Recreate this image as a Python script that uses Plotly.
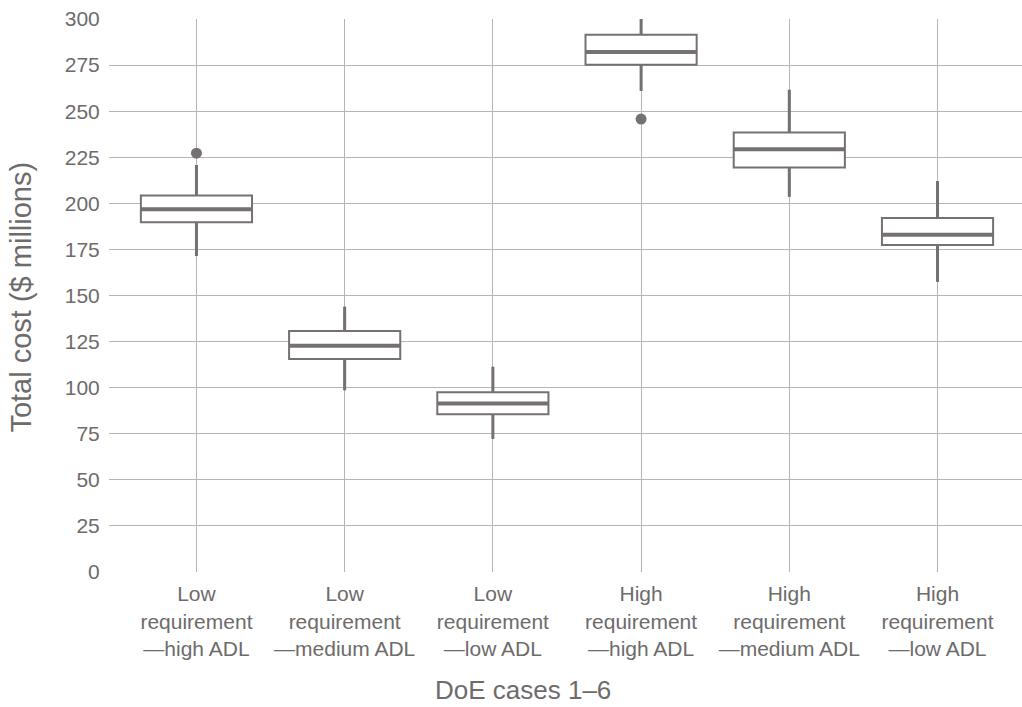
import plotly.graph_objects as go

categories = [
    "Low<br>requirement<br>—high ADL",
    "Low<br>requirement<br>—medium ADL",
    "Low<br>requirement<br>—low ADL",
    "High<br>requirement<br>—high ADL",
    "High<br>requirement<br>—medium ADL",
    "High<br>requirement<br>—low ADL",
]
lower_fence = [171.4, 98.6, 72.2, 261.0, 203.6, 157.4]
q1 = [189.7, 115.6, 85.6, 275.2, 219.4, 177.4]
median = [196.8, 122.7, 91.4, 282.1, 229.4, 183.0]
q3 = [204.2, 130.8, 97.5, 291.5, 238.4, 192.0]
upper_fence = [220.8, 143.9, 111.3, 301.0, 261.6, 212.1]
outlier_case = [0, 3]
outlier_value = [227.2, 245.7]
y_ticks = list(range(0, 301, 25))
x_title = "DoE cases 1–6"
y_title = "Total cost ($ millions)"

GRAY = "#767171"
TEXT = "#6e6b6b"
GRID = "#b5b5b5"
BOX_W = 0.75
FONT = "Liberation Sans, Arial, sans-serif"

xpos = list(range(len(categories)))

fig = go.Figure()
fig.add_trace(go.Box(
    x=xpos, q1=q1, median=median, q3=q3,
    lowerfence=lower_fence, upperfence=upper_fence,
    width=BOX_W, whiskerwidth=0,
    fillcolor="white", line=dict(color=GRAY, width=2),
    boxpoints=False, showlegend=False, hoverinfo="skip",
))

# thicker whiskers and medians
for i in xpos:
    fig.add_trace(go.Scatter(
        x=[i, i], y=[lower_fence[i], q1[i]], mode="lines",
        line=dict(color=GRAY, width=3), showlegend=False, hoverinfo="skip"))
    fig.add_trace(go.Scatter(
        x=[i, i], y=[q3[i], upper_fence[i]], mode="lines",
        line=dict(color=GRAY, width=3), showlegend=False, hoverinfo="skip"))
    fig.add_trace(go.Scatter(
        x=[i - BOX_W / 2, i + BOX_W / 2], y=[median[i], median[i]], mode="lines",
        line=dict(color=GRAY, width=4), showlegend=False, hoverinfo="skip"))

fig.add_trace(go.Scatter(
    x=outlier_case, y=outlier_value, mode="markers",
    marker=dict(color=GRAY, size=11), showlegend=False, hoverinfo="skip"))

fig.update_layout(
    width=1022, height=707,
    margin=dict(l=109, r=0, t=19, b=135),
    paper_bgcolor="white", plot_bgcolor="white",
    font=dict(family=FONT, color=TEXT, size=21),
)
fig.update_xaxes(
    range=[-0.59, 5.57],
    tickmode="array", tickvals=xpos, ticktext=categories,
    showgrid=True, gridcolor=GRID, gridwidth=1,
    zeroline=False, showline=False,
    ticks="outside", ticklen=3, tickcolor="rgba(0,0,0,0)",
    tickfont=dict(size=21, color=TEXT),
)
fig.update_yaxes(
    range=[0, 300],
    tickmode="array", tickvals=y_ticks,
    showgrid=True, gridcolor=GRID, gridwidth=1,
    zeroline=False, showline=False,
    ticks="outside", ticklen=4, tickcolor="rgba(0,0,0,0)",
    tickfont=dict(size=21, color=TEXT),
)
fig.add_annotation(
    text=x_title, xref="paper", yref="paper",
    x=(523 - 109) / 913, y=(571.5 - 689) / 552.2,
    xanchor="center", yanchor="middle", showarrow=False,
    font=dict(size=26, color=TEXT),
)
fig.add_annotation(
    text=y_title, xref="paper", yref="paper", textangle=-90,
    x=(21 - 109) / 913, y=(571.5 - 297.5) / 552.2,
    xanchor="center", yanchor="middle", showarrow=False,
    font=dict(size=29, color=TEXT),
)

fig.write_html("out.html")
